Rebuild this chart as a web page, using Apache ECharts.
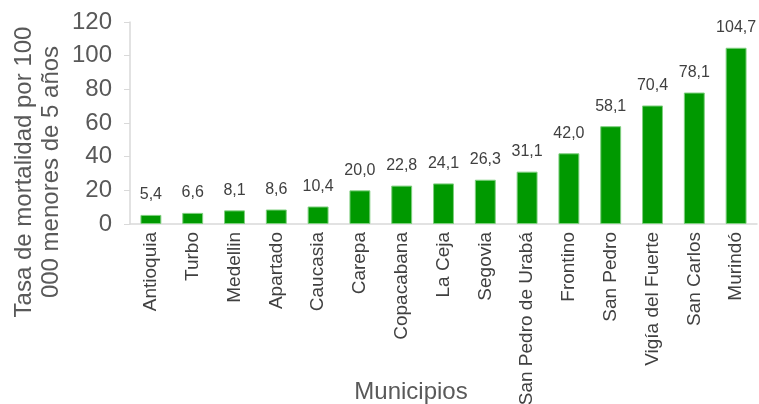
<!DOCTYPE html>
<html>
<head>
<meta charset="utf-8">
<script src="https://cdn.jsdelivr.net/npm/echarts@6/dist/echarts.min.js"></script>
<style>
  html, body { margin: 0; padding: 0; background: #fff; }
  #chart { width: 759px; height: 404px; }
</style>
</head>
<body>
<div id="chart"></div>
<script>
// datos del gráfico
const municipios = ['Antioquia', 'Turbo', 'Medellin', 'Apartado', 'Caucasia', 'Carepa', 'Copacabana',
  'La Ceja', 'Segovia', 'San Pedro de Urabá', 'Frontino', 'San Pedro', 'Vigía del Fuerte', 'San Carlos', 'Murindó'];
const tasas = [5.4, 6.6, 8.1, 8.6, 10.4, 20.0, 22.8, 24.1, 26.3, 31.1, 42.0, 58.1, 70.4, 78.1, 104.7];
const yTicks = [0, 20, 40, 60, 80, 100, 120];

(function () {
  let myChart = echarts.init(document.getElementById('chart'));
  let font = 'Liberation Sans, Arial, sans-serif';
  let option = {
    animation: false,
    textStyle: { fontFamily: font },
    // outerBoundsMode none: que no encoja la rejilla por las etiquetas largas
    grid: { left: 130, right: 2, top: 22, bottom: 180, containLabel: false, outerBoundsMode: 'none' },
    xAxis: {
      type: 'category',
      data: municipios,
      axisLine: { lineStyle: { color: '#d9d9d9', width: 1.5 } },
      axisTick: { show: false },
      axisLabel: {
        rotate: 90,
        interval: 0,
        color: '#404040',
        fontSize: 19,
        margin: 8,
        fontFamily: font
      }
    },
    yAxis: {
      type: 'value',
      min: yTicks[0],
      max: yTicks[yTicks.length - 1],
      interval: 20,
      axisLine: { show: true, lineStyle: { color: '#d9d9d9', width: 1.5 } },
      axisTick: { show: true, length: 6, lineStyle: { color: '#d9d9d9' } },
      splitLine: { show: false },
      axisLabel: { color: '#595959', fontSize: 24, margin: 18, fontFamily: font }
    },
    graphic: [{
      type: 'text',
      x: 38,
      y: 172,
      rotation: Math.PI / 2,
      style: {
        text: 'Tasa de mortalidad por 100\n000 menores de 5 años',
        fill: '#595959',
        font: '24px ' + font,
        textAlign: 'center',
        textVerticalAlign: 'middle',
        lineHeight: 27
      }
    }, {
      type: 'text',
      x: 411,
      y: 392,
      style: {
        text: 'Municipios',
        fill: '#595959',
        font: '24px ' + font,
        textAlign: 'center',
        textVerticalAlign: 'middle'
      }
    }],
    series: [{
      type: 'bar',
      data: tasas,
      barWidth: '50%',
      itemStyle: { color: '#009900', borderColor: '#7fcf7f', borderWidth: 1 },
      label: {
        show: true,
        position: 'top',
        distance: 12,
        color: '#404040',
        fontSize: 16,
        fontFamily: font,
        formatter: function (p) { return p.value.toFixed(1).replace('.', ','); }
      }
    }]
  };
  myChart.setOption(option);
  window.addEventListener('resize', function () {
    myChart.resize();
  });
})();
</script>
</body>
</html>
